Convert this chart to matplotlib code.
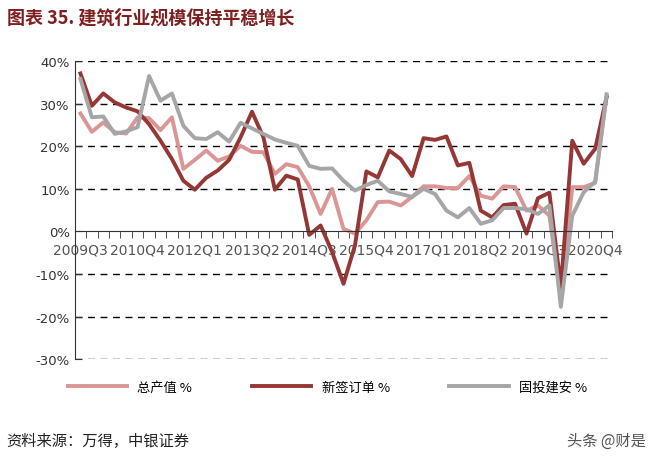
import matplotlib
matplotlib.use("Agg")
import matplotlib.pyplot as plt
import numpy as np

plt.rcParams['font.family'] = ['Noto Sans CJK SC', 'DejaVu Sans']

quarters = []
for y in range(2009, 2022):
    for q in range(1, 5):
        quarters.append(f"{y}Q{q}")
quarters = quarters[2:2 + 47]

output_value = [27.7, 23.4, 25.6, 23.3, 23.0, 26.8, 26.6, 23.8, 26.8, 14.7, 16.8, 19.0, 16.6, 17.6,
                20.1, 18.7, 18.6, 13.5, 15.8, 15.1, 10.6, 4.1, 10.0, 0.6, -0.5, 2.6, 6.9, 7.0,
                6.1, 8.1, 10.6, 10.6, 10.2, 10.2, 13.0, 8.4, 7.7, 10.6, 10.4, 4.9, 6.1, 3.7,
                -15.5, 10.4, 10.4, 11.4, 31.8]
new_orders = [37.1, 29.5, 32.4, 30.3, 29.1, 28.2, 25.2, 21.3, 17.0, 11.9, 9.8, 12.6, 14.3, 16.8,
              22.1, 28.1, 22.1, 9.8, 13.1, 12.2, -0.8, 1.4, -4.8, -12.3, -3.3, 14.1, 12.7, 19.0,
              17.0, 13.0, 21.9, 21.5, 22.3, 15.5, 16.1, 4.9, 3.3, 6.2, 6.5, -0.5, 7.8, 9.1,
              -13.0, 21.3, 15.9, 19.4, 31.5]
fixed_inv = [35.8, 26.8, 27.0, 22.9, 23.5, 24.5, 36.5, 30.7, 32.4, 24.8, 21.9, 21.7, 23.3, 21.1,
             25.5, 24.2, 22.9, 21.6, 20.8, 20.1, 15.4, 14.7, 14.8, 11.9, 9.6, 10.9, 11.9, 9.4,
             8.8, 8.1, 10.0, 8.8, 4.9, 3.3, 5.5, 1.8, 2.6, 5.5, 5.5, 5.2, 4.1, 6.1,
             -17.7, 3.7, 9.2, 11.7, 32.2]

fig = plt.figure(figsize=(6.67, 4.6), dpi=100)
ax = fig.add_axes([0.112, 0.217, 0.806, 0.648])
x = np.arange(len(quarters))
ax.plot(x, output_value, color='#DA9694', lw=2.8, label='总产值 %')
ax.plot(x, new_orders, color='#953735', lw=2.8, label='新签订单 %')
ax.plot(x, fixed_inv, color='#A6A6A6', lw=2.8, label='固投建安 %')

ax.set_xlim(-0.5, len(quarters) - 0.5)
ax.set_ylim(-30, 40)
yt = list(range(-30, 41, 10))
ax.set_yticks(yt)
ax.set_yticklabels([f"{v}%" for v in yt], fontsize=9.5, color='#333333', family='DejaVu Sans')
for v in yt:
    if v != 0:
        ax.axhline(v, color='black', lw=1, ls=(0, (5, 4)), zorder=0)
for s in ['top', 'right']:
    ax.spines[s].set_visible(False)
ax.spines['bottom'].set_position(('data', 0))
ax.spines['bottom'].set_color('#333333')
ax.spines['left'].set_color('#333333')
ax.set_xticks(np.arange(-0.5, len(quarters), 1), minor=True)
ax.set_xticks(x[::5])
ax.set_xticklabels(quarters[::5], fontsize=10, color='#555555', family='DejaVu Sans')
ax.tick_params(axis='x', which='major', length=0, pad=8)
ax.tick_params(axis='x', which='minor', length=5, direction='out', color='#333333')
ax.tick_params(axis='y', length=5, direction='in', color='#333333')

ax.legend(loc='center', bbox_to_anchor=(0.47, -0.095), ncol=3, frameon=False,
          fontsize=9.5, handlelength=4.5, columnspacing=4.5)

fig.text(0.01, 0.96, '图表 35. 建筑行业规模保持平稳增长', fontsize=13, fontweight='bold',
         color='#7F1F1F', va='center')
fig.text(0.01, 0.04, '资料来源：万得，中银证券', fontsize=11, style='italic', color='#222222', va='center')
fig.text(0.85, 0.04, '头条 @财是', fontsize=11, color='#555555', va='center')

fig.savefig('out.png', dpi=100)
